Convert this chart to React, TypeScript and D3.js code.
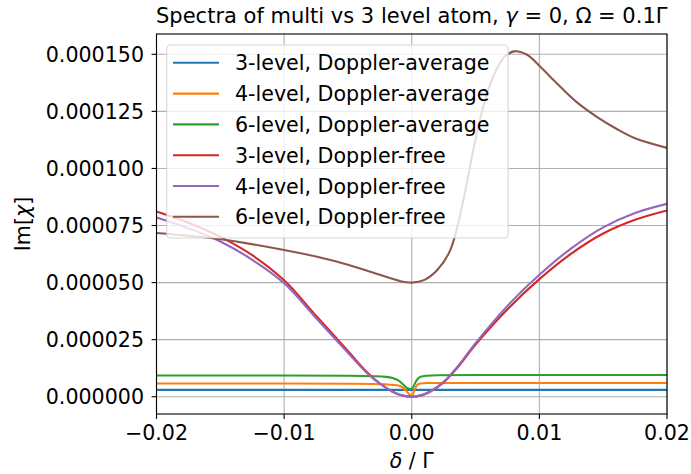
import React from "react";
import * as d3 from "d3";

// ---- data ----
const xTicks = [-0.02, -0.01, 0, 0.01, 0.02];
const yTicks = [0, 0.000025, 0.00005, 0.000075, 0.0001, 0.000125, 0.00015];

const seriesNames = [
  "3-level, Doppler-average",
  "4-level, Doppler-average",
  "6-level, Doppler-average",
  "3-level, Doppler-free",
  "4-level, Doppler-free",
  "6-level, Doppler-free",
];
const seriesColors = ["#1f77b4", "#ff7f0e", "#2ca02c", "#d62728", "#9467bd", "#8c564b"];

// Doppler-average detuning grid
const xAvg = [-0.02, -0.01, -0.005, -0.003, -0.002, -0.0015, -0.001, -0.0007, -0.0004, -0.0002, 0, 0.0002, 0.0004, 0.0006, 0.0009, 0.0012, 0.002, 0.005, 0.01, 0.02];
const avg3 = [3.0e-6, 3.0e-6, 3.0e-6, 3.0e-6, 3.0e-6, 3.0e-6, 3.0e-6, 3.0e-6, 3.0e-6, 3.0e-6, 3.0e-6, 3.0e-6, 3.0e-6, 3.0e-6, 3.0e-6, 3.0e-6, 3.0e-6, 3.0e-6, 3.0e-6, 3.0e-6];
const avg4 = [5.8e-6, 5.8e-6, 5.7e-6, 5.6e-6, 5.4e-6, 5.2e-6, 4.8e-6, 4.0e-6, 2.4e-6, 1.1e-6, 0.1e-6, 2.8e-6, 5.0e-6, 5.7e-6, 5.9e-6, 6.0e-6, 6.0e-6, 6.0e-6, 6.0e-6, 6.0e-6];
const avg6 = [9.3e-6, 9.3e-6, 9.2e-6, 9.0e-6, 8.7e-6, 8.2e-6, 7.0e-6, 5.5e-6, 3.9e-6, 3.5e-6, 3.4e-6, 5.2e-6, 7.4e-6, 8.5e-6, 9.0e-6, 9.2e-6, 9.4e-6, 9.5e-6, 9.5e-6, 9.5e-6];

// Doppler-free detuning grid (3 and 4 level)
const xFree = [-0.02, -0.0175, -0.015, -0.0125, -0.01, -0.0075, -0.005, -0.0035, -0.0025, -0.0015, -0.0008, 0, 0.0008, 0.0015, 0.0025, 0.0035, 0.005, 0.0075, 0.01, 0.0125, 0.015, 0.0175, 0.02];
const free3 = [8.11e-5, 7.62e-5, 7.0e-5, 6.2e-5, 5.1e-5, 3.55e-5, 2.0e-5, 1.07e-5, 5.8e-6, 2.2e-6, 0.65e-6, 0, 0.7e-6, 2.4e-6, 6.3e-6, 1.22e-5, 2.28e-5, 3.83e-5, 5.15e-5, 6.27e-5, 7.15e-5, 7.75e-5, 8.16e-5];
const free4 = [7.85e-5, 7.38e-5, 6.8e-5, 6.0e-5, 4.97e-5, 3.45e-5, 1.92e-5, 1.03e-5, 5.7e-6, 2.2e-6, 0.65e-6, 0, 0.7e-6, 2.5e-6, 6.5e-6, 1.26e-5, 2.35e-5, 3.98e-5, 5.34e-5, 6.5e-5, 7.42e-5, 8.05e-5, 8.45e-5];

// Doppler-free 6 level
const xFree6 = [-0.02, -0.015, -0.01, -0.0075, -0.005, -0.0025, -0.001, 0, 0.001, 0.002, 0.003, 0.004, 0.0048, 0.0056, 0.0064, 0.0072, 0.008, 0.009, 0.01, 0.011, 0.012, 0.013, 0.0145, 0.016, 0.0175, 0.02];
const free6 = [7.17e-5, 6.9e-5, 6.43e-5, 6.14e-5, 5.78e-5, 5.34e-5, 5.08e-5, 5.0e-5, 5.12e-5, 5.55e-5, 6.4e-5, 8.5e-5, 1.075e-4, 1.27e-4, 1.405e-4, 1.485e-4, 1.513e-4, 1.499e-4, 1.45e-4, 1.393e-4, 1.338e-4, 1.287e-4, 1.226e-4, 1.175e-4, 1.132e-4, 1.09e-4];

const seriesX = [xAvg, xAvg, xAvg, xFree, xFree, xFree6];
const seriesY = [avg3, avg4, avg6, free3, free4, free6];

// ---- layout ----
const W = 691;
const H = 474;
const L = 156.5, R = 667, T = 34, B = 414;
const FONT = "DejaVu Sans, sans-serif";
const FS = 20.6;

export default function App() {
  const x = d3.scaleLinear().domain([-0.02, 0.02]).range([L, R]);
  const y = d3.scaleLinear().domain([-0.00000757, 0.0001589]).range([B, T]);
  const lineAvg = d3
    .line<[number, number]>()
    .x((d) => x(d[0]))
    .y((d) => y(d[1]))
    .curve(d3.curveMonotoneX);
  const lineFree = d3
    .line<[number, number]>()
    .x((d) => x(d[0]))
    .y((d) => y(d[1]))
    .curve(d3.curveCatmullRom.alpha(0.5));
  const fy = d3.format(".6f");
  const fx = d3.format(".2f");

  const legX = 166.7, legY = 45, legW = 341.5, legH = 193;
  const rowY0 = 62.8, rowDY = 30.8;

  return (
    <svg width={W} height={H} style={{ position: "fixed", left: 0, top: 0, background: "#fff" }} fontFamily={FONT}>
      <defs>
        <clipPath id="plotclip">
          <rect x={L} y={T} width={R - L} height={B - T} />
        </clipPath>
      </defs>
      <rect x={0} y={0} width={W} height={H} fill="#fff" />
      {/* grid */}
      {xTicks.map((t) => (
        <line key={"gx" + t} x1={x(t)} x2={x(t)} y1={T} y2={B} stroke="#b0b0b0" strokeWidth={1.1} />
      ))}
      {yTicks.map((t) => (
        <line key={"gy" + t} x1={L} x2={R} y1={y(t)} y2={y(t)} stroke="#b0b0b0" strokeWidth={1.1} />
      ))}
      {/* series */}
      <g clipPath="url(#plotclip)">
        {seriesY.map((ys, i) => {
          const gen = i < 3 ? lineAvg : lineFree;
          return (
            <path
              key={"s" + i}
              d={gen(seriesX[i].map((xv, j) => [xv, ys[j]] as [number, number])) || ""}
              fill="none"
              stroke={seriesColors[i]}
              strokeWidth={2.1}
              strokeLinejoin="round"
              strokeLinecap="square"
            />
          );
        })}
      </g>
      {/* spines */}
      <rect x={L} y={T} width={R - L} height={B - T} fill="none" stroke="#000" strokeWidth={1.1} />
      {/* ticks */}
      {xTicks.map((t) => (
        <g key={"tx" + t}>
          <line x1={x(t)} x2={x(t)} y1={B} y2={B + 4.9} stroke="#000" strokeWidth={1.1} />
          <text x={x(t)} y={B + 26} textAnchor="middle" fontSize={FS} fill="#000">
            {fx(t)}
          </text>
        </g>
      ))}
      {yTicks.map((t) => (
        <g key={"ty" + t}>
          <line x1={L - 4.9} x2={L} y1={y(t)} y2={y(t)} stroke="#000" strokeWidth={1.1} />
          <text x={L - 12.5} y={y(t) + 7.5} textAnchor="end" fontSize={FS} fill="#000">
            {fy(t)}
          </text>
        </g>
      ))}
      {/* axis labels */}
      <text x={(L + R) / 2} y={468} textAnchor="middle" fontSize={FS} fill="#000">
        <tspan fontStyle="italic">δ</tspan>
        <tspan> / Γ</tspan>
      </text>
      <text transform={`translate(30, ${(T + B) / 2}) rotate(-90)`} textAnchor="middle" fontSize={FS} fill="#000">
        <tspan>Im[</tspan>
        <tspan fontStyle="italic">χ</tspan>
        <tspan>]</tspan>
      </text>
      {/* title */}
      <text x={(L + R) / 2} y={23} textAnchor="middle" fontSize={21} fill="#000">
        <tspan>Spectra of multi vs 3 level atom, </tspan>
        <tspan fontStyle="italic">γ</tspan>
        <tspan> = 0, Ω = 0.1Γ</tspan>
      </text>
      {/* legend */}
      <rect x={legX} y={legY} width={legW} height={legH} rx={4} ry={4} fill="#fff" fillOpacity={0.8} stroke="#cccccc" strokeOpacity={0.8} strokeWidth={1.1} />
      {seriesNames.map((n, i) => (
        <g key={"lg" + i}>
          <line x1={173} x2={219} y1={rowY0 + i * rowDY} y2={rowY0 + i * rowDY} stroke={seriesColors[i]} strokeWidth={2.1} />
          <text x={235} y={rowY0 + i * rowDY + 7.5} fontSize={FS} fill="#000">
            {n}
          </text>
        </g>
      ))}
    </svg>
  );
}
